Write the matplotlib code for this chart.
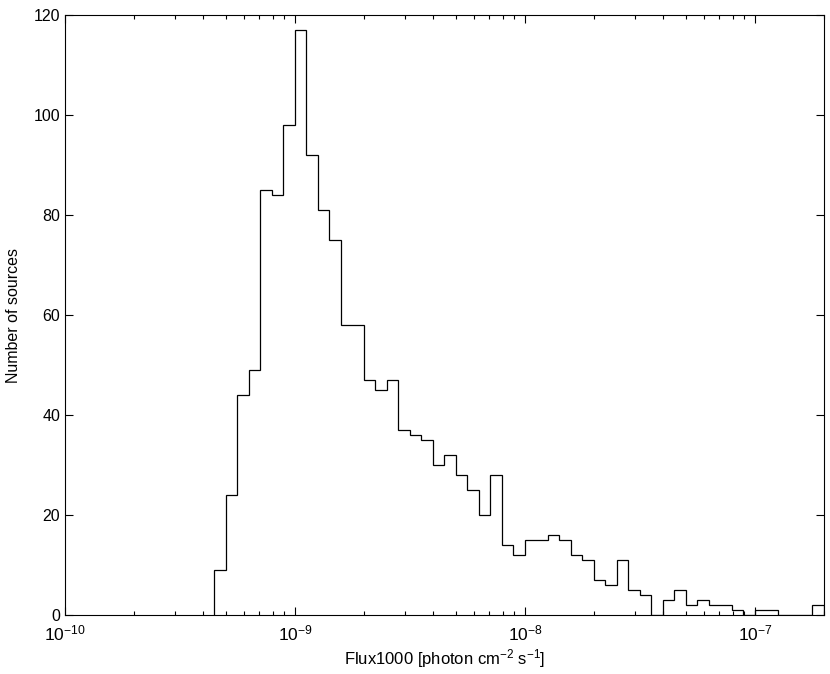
# histogram of source fluxes, 0.05 dex bins
import numpy as np
import matplotlib
matplotlib.use("Agg")
import matplotlib.pyplot as plt

plt.rcParams['font.family'] = ['Liberation Sans', 'DejaVu Sans']
plt.rcParams['mathtext.default'] = 'regular'

# counts per bin
counts = [9, 24, 44, 49, 85, 84, 98, 117, 92, 81,
          75, 58, 58, 47, 45, 47, 37, 36, 35, 30,
          32, 28, 25, 20, 28, 14, 12, 15, 15, 16,
          15, 12, 11, 7, 6, 11, 5, 4, 0, 3,
          5, 2, 3, 2, 2, 1, 0, 1, 1, 0,
          0, 0, 2]
log_edge_first = -9.35
log_bin_width = 0.05
xlims = [1e-10, 2e-7]
yticks = [0, 20, 40, 60, 80, 100, 120]

edges = 10 ** (log_edge_first + log_bin_width * np.arange(len(counts) + 1))

fig = plt.figure(figsize=(8.3, 6.74), dpi=100)
ax = fig.add_axes([0.0783, 0.0875, 0.9147, 0.8902])

ax.stairs(counts, edges, baseline=0, color='black', linewidth=0.9)

ax.set_xscale('log')
ax.set_xlim(xlims)
ax.set_ylim(0, 120)
ax.set_yticks(yticks)

ax.tick_params(which='both', direction='in', top=True, right=True, labelsize=11.5)
ax.tick_params(axis='x', labelsize=12.5, pad=6)
ax.tick_params(which='major', length=6, width=0.8)
ax.tick_params(which='minor', length=3, width=0.8)
for s in ax.spines.values():
    s.set_linewidth(0.8)

ax.set_xlabel('Flux1000 [photon cm$^{-2}$ s$^{-1}$]', fontsize=12, labelpad=3)
ax.set_ylabel('Number of sources', fontsize=11.5, labelpad=9)

fig.savefig('out.png', dpi=100)
